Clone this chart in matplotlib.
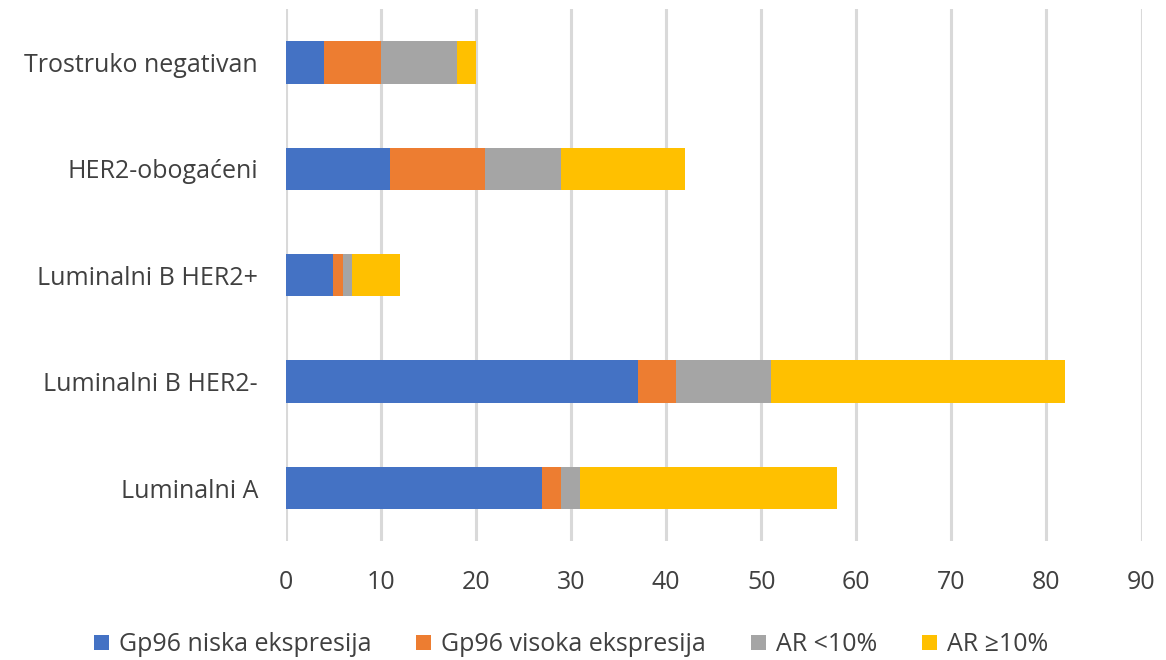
import numpy as np
import matplotlib.pyplot as plt

plt.rcParams['font.family'] = ['Open Sans', 'DejaVu Sans']

# molecular subtypes, bottom to top
categories = ['Luminalni A', 'Luminalni B HER2-', 'Luminalni B HER2+', 'HER2-obogaćeni', 'Trostruko negativan']
gp96_niska = [27, 37, 5, 11, 4]
gp96_visoka = [2, 4, 1, 10, 6]
ar_manje10 = [2, 10, 1, 8, 8]
ar_vece10 = [27, 31, 5, 13, 2]

series = [
    ('Gp96 niska ekspresija', gp96_niska, '#4472c4'),
    ('Gp96 visoka ekspresija', gp96_visoka, '#ed7d31'),
    ('AR <10%', ar_manje10, '#a5a5a5'),
    ('AR ≥10%', ar_vece10, '#ffc000'),
]

fig = plt.figure(figsize=(11.66, 6.6), dpi=100)
ax = fig.add_axes([0.245, 0.180, 0.734, 0.806])

y = np.arange(len(categories))
left = np.zeros(len(categories))
for name, vals, col in series:
    ax.barh(y, vals, left=left, height=0.4, color=col, label=name, zorder=3)
    left += np.array(vals)

ax.set_xlim(0, 90)
ax.set_ylim(-0.5, len(categories) - 0.5)
ax.set_xticks(np.arange(0, 91, 10))
ax.set_yticks(y)
ax.set_yticklabels(categories)
ax.tick_params(axis='both', length=0, labelsize=18, colors='#404040')
ax.tick_params(axis='x', pad=21)
ax.tick_params(axis='y', pad=20)
ax.xaxis.grid(True, color='#d9d9d9', linewidth=2.2, zorder=0)
for s in ax.spines.values():
    s.set_visible(False)

fig.legend(loc='lower center', bbox_to_anchor=(0.49, -0.03), ncol=4, frameon=False,
           fontsize=18, handlelength=0.6, handleheight=0.6, columnspacing=1.8,
           handletextpad=0.4, labelcolor='#404040')

fig.savefig('out.png', dpi=100, facecolor='white')
